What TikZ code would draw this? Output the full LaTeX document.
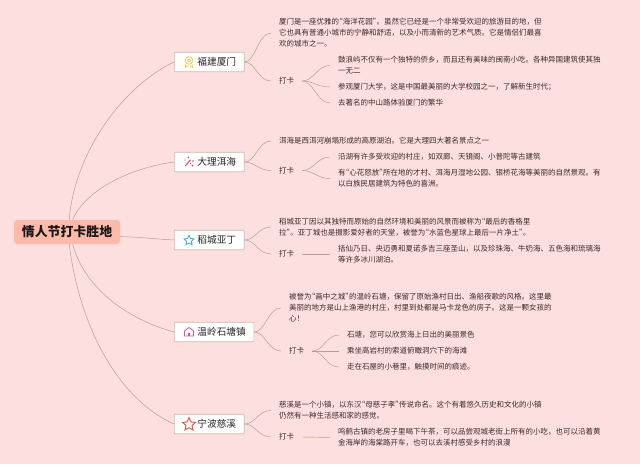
\documentclass[tikz,border=0pt]{standalone}
\usepackage{fontspec}
\setmainfont{Noto Sans CJK SC}
\usetikzlibrary{shapes.geometric}
\definecolor{bgpink}{HTML}{FDDFE0}
\definecolor{rootfill}{HTML}{FDB9A9}
\definecolor{linetan}{HTML}{B5A08C}
\definecolor{boxedge}{HTML}{C9BBA6}
\definecolor{txt}{HTML}{3A2A2A}
\tikzset{
  rootbox/.style={fill=rootfill,rounded corners=3pt,minimum width=106pt,minimum height=24pt,inner sep=0pt,
    font=\fontsize{12.9}{15}\selectfont\bfseries,text=black!90},
  citybox/.style={fill=white,draw=boxedge,line width=.7pt,rounded corners=.8pt,minimum height=19.5pt,inner xsep=8pt,inner ysep=0pt,
    anchor=west,font=\fontsize{9.7}{12}\selectfont,text=black!85},
  leaf/.style={anchor=west,align=left,inner xsep=8pt,inner ysep=0pt,text=txt,font=\fontsize{7.5}{11}\selectfont},
  link/.style={draw=linetan,line width=.5pt},
  thicklink/.style={draw=boxedge,line width=.9pt},
  iconstar/.style={star,star points=5,star point ratio=2.1,inner sep=0pt,line width=.8pt,fill=white}
}
\newcommand{\cityname}[1]{\hspace*{15pt}#1}
\newcommand{\qopen}{\hspace*{-3.75pt}“}
\newcommand{\qclose}{”\hspace*{-3.75pt}}
\newcommand{\branch}[2]{\draw[link] (#1.east) .. controls ([xshift=11pt]#1.east) and ([xshift=-13pt]#2.west) .. (#2.west);}
\begin{document}
\begin{tikzpicture}[x=1pt,y=-1pt]
\path[use as bounding box,fill=bgpink] (0,0) rectangle (640,464);

\node[rootbox] (root) at (67,232) {情人节打卡胜地};
\node[citybox] (c1) at (174,62) {\cityname{福建厦门}};
\node[citybox] (c2) at (174,162) {\cityname{大理洱海}};
\node[citybox] (c3) at (174,240) {\cityname{稻城亚丁}};
\node[citybox] (c4) at (174,332) {\cityname{温岭石塘镇}};
\node[citybox] (c5) at (174,424) {\cityname{宁波慈溪}};

% root connectors
\draw[link] (root.80) .. controls (75,150) and (125,85) .. (c1.west);
\draw[link] (root.65) .. controls (85,190) and (130,168) .. (c2.west);
\draw[link] (root.-5) .. controls (140,237) and (155,239) .. (c3.west);
\draw[link] (root.-65) .. controls (85,290) and (130,320) .. (c4.west);
\draw[link] (root.-80) .. controls (80,330) and (120,400) .. (c5.west);

% Fujian Xiamen
\node[leaf] (a1) at (271,33) {厦门是一座优雅的\qopen 海洋花园\qclose 。虽然它已经是一个非常受欢迎的旅游目的地，但\\它也具有普通小城市的宁静和舒适，以及小而清新的艺术气质。它是情侣们最喜\\欢的城市之一。};
\node[leaf] (a2) at (271,81) {打卡};
\node[leaf] (a21) at (330,65.5) {鼓浪屿不仅有一个独特的侨乡，而且还有美味的闽南小吃。各种异国建筑使其独\\一无二};
\node[leaf] (a22) at (330,87) {参观厦门大学，这是中国最美丽的大学校园之一，了解新生时代；};
\node[leaf] (a23) at (330,103) {去著名的中山路体验厦门的繁华};
\branch{c1}{a1} \branch{c1}{a2}
\branch{a2}{a21} \branch{a2}{a22} \branch{a2}{a23}

% Dali Erhai
\node[leaf] (b1) at (271,141) {洱海是西洱河崩塌形成的高原湖泊。它是大理四大著名景点之一};
\node[leaf] (b2) at (271,170.5) {打卡};
\node[leaf] (b21) at (330,157) {沿湖有许多受欢迎的村庄，如双廊、天镜阁、小普陀等古建筑};
\node[leaf] (b22) at (330,178.5) {有\qopen 心花怒放\qclose 所在地的才村、洱海月湿地公园、银桥花海等美丽的自然景观。有\\以白族民居建筑为特色的喜洲。};
\branch{c2}{b1} \branch{c2}{b2}
\branch{b2}{b21} \branch{b2}{b22}

% Daocheng Yading
\node[leaf] (d1) at (271,227) {稻城亚丁因以其独特而原始的自然环境和美丽的风景而被称为\qopen 最后的香格里\\拉\qclose 。亚丁城也是摄影爱好者的天堂，被誉为\qopen 水蓝色星球上最后一片净土\qclose 。};
\node[leaf] (d2) at (271,254) {打卡};
\node[leaf] (d21) at (330,254) {括仙乃日、央迈勇和夏诺多吉三座圣山，以及珍珠海、牛奶海、五色海和琉璃海\\等许多冰川湖泊。};
\branch{c3}{d1} \branch{c3}{d2}
\draw[link] (d2.east) -- (d21.west);

% Wenling Shitang
\node[leaf] (e1) at (281,308) {被誉为\qopen 画中之城\qclose 的温岭石塘，保留了原始渔村日出、渔船夜歌的风格。这里最\\美丽的地方是山上渔港的村庄，村里到处都是马卡龙色的房子。这是一颗女孩的\\心！};
\node[leaf] (e2) at (281,351) {打卡};
\node[leaf] (e21) at (339,335) {石塘，您可以欣赏海上日出的美丽景色};
\node[leaf] (e22) at (339,351) {乘坐高岩村的索道俯瞰洞穴下的海滩};
\node[leaf] (e23) at (339,367) {走在石屋的小巷里，触摸时间的痕迹。};
\branch{c4}{e1} \branch{c4}{e2}
\branch{e2}{e21} \draw[link] (e2.east) -- (e22.west); \branch{e2}{e23}

% Ningbo Cixi
\node[leaf] (f1) at (271,410.5) {慈溪是一个小镇，以东汉\qopen 母慈子孝\qclose 传说命名。这个有着悠久历史和文化的小镇\\仍然有一种生活感和家的感觉。};
\node[leaf] (f2) at (271,437) {打卡};
\node[leaf] (f21) at (330,437.5) {鸣鹤古镇的老房子里喝下午茶，可以品尝观城老街上所有的小吃，也可以沿着黄\\金海岸的海棠路开车，也可以去溪村感受乡村的浪漫};
\branch{c5}{f1} \branch{c5}{f2}
\draw[thicklink] (f2.east) -- (f21.west);

% icons
\definecolor{iconyellow}{HTML}{F7C948}
\definecolor{iconpink}{HTML}{E5407A}
\definecolor{iconblue}{HTML}{3FA9E0}
\definecolor{iconhouse}{HTML}{D9558A}
\definecolor{iconred}{HTML}{E8584A}
% medal
\draw[iconyellow,line width=.8pt] (189,60.5) circle (3.8);
\draw[iconyellow,line width=.7pt] (189,60.5) circle (1.6);
\draw[iconyellow,line width=.8pt] (186,64) -- (185.5,67.5) -- (188,66) (192,64) -- (192.5,67.5) -- (190,66);
% wand
\fill[iconpink] (185,165.5) -- (190,159.5) -- (190.8,160.2) -- (185.8,166.2) -- cycle;
\fill[iconpink] (188.5,157.5) circle (.8) (193,161) circle (.8) (192.5,165.5) circle (1) (190.5,163.5) circle (.7) (185,160) circle (.7);
% stars
\node[iconstar,draw=iconblue,minimum size=10.5pt] (s3) at (189,240.5) {};
\node[iconstar,draw=iconred,minimum size=13.5pt,line width=1pt] (s5) at (189,424.5) {};
% house
\draw[iconhouse,line width=.8pt,line join=round] (184.5,336) -- (184.5,331) -- (189,327.5) -- (193.5,331) -- (193.5,336) -- cycle;
\fill[iconhouse] (187.8,336) rectangle (190.2,332.6);
\end{tikzpicture}
\end{document}
